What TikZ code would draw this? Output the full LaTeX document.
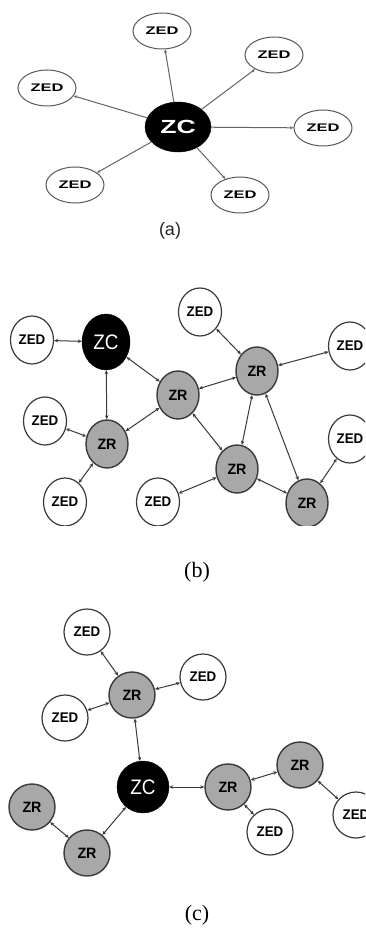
\documentclass[tikz,border=0pt]{standalone}
\usepackage{graphicx}
\usepackage{fontspec}
\setmainfont{Liberation Sans}
\newfontfamily\serifl{Liberation Serif}
\usetikzlibrary{shapes.geometric,arrows.meta}
\newcommand\txtazed{\scalebox{1.5}[1]{\bfseries\fontsize{11}{11}\selectfont ZED}}
\newcommand\txtazc{\scalebox{1.4}[1]{\bfseries\fontsize{19}{19}\selectfont ZC}}
\newcommand\txtzed{\scalebox{0.95}[1]{\bfseries\fontsize{14}{14}\selectfont ZED}}
\newcommand\txtzr{\scalebox{0.95}[1]{\bfseries\fontsize{15}{15}\selectfont ZR}}
\newcommand\txtzc{\scalebox{0.9}[1]{\fontsize{21}{21}\selectfont ZC}}
\definecolor{zrgray}{HTML}{A8A8A8}
\definecolor{edgecol}{HTML}{3A3A3A}
\begin{document}
\begin{tikzpicture}[x=1pt,y=-1pt,
  aZED/.style={ellipse, draw=gray!70!black, line width=1pt, fill=white,
    minimum width=58pt, minimum height=36pt, inner sep=0pt},
  aZC/.style={ellipse, draw=black, fill=black, text=white,
    minimum width=66pt, minimum height=50pt, inner sep=0pt},
  aedge/.style={-{Stealth[length=3.5pt,width=3pt]}, draw=gray!80!black, line width=1pt},
  zed/.style={ellipse, draw=edgecol, line width=1.2pt, fill=white,
    minimum width=43pt, minimum height=48pt, inner sep=0pt},
  zr/.style={ellipse, draw=edgecol, line width=1.4pt, fill=zrgray,
    minimum width=42pt, minimum height=48pt, inner sep=0pt},
  zc/.style={ellipse, draw=black, fill=black, text=white,
    minimum width=48pt, minimum height=56pt, inner sep=0pt},
  cnode/.style={minimum width=46pt, minimum height=46pt},
  bedge/.style={{Stealth[length=4pt,width=3.5pt]}-{Stealth[length=4pt,width=3.5pt]},
    draw=edgecol, line width=1pt},
  caplabel/.style={font=\serifl\fontsize{22}{22}\selectfont, text=black}
]
\clip (0,0) rectangle (365,928);
\fill[white] (0,0) rectangle (365,928);

% ---------------- panel (a)
\node[aZC] (aZC) at (178,127) {\txtazc};
\node[aZED] (a1) at (162,31) {\txtazed};
\node[aZED] (a2) at (274,55) {\txtazed};
\node[aZED] (a3) at (47,88) {\txtazed};
\node[aZED] (a4) at (323,128) {\txtazed};
\node[aZED] (a5) at (75,185) {\txtazed};
\node[aZED] (a6) at (240,195) {\txtazed};
\foreach \t in {a1,a2,a3,a4,a5,a6} \draw[aedge] (aZC) -- (\t);
\node[font=\fontsize{18}{18}\selectfont, text=black!85] (alab) at (170,231) {(a)};

% ---------------- panel (b)
\begin{scope}
\clip (0,260) rectangle (365,525);
\node[zed] (bZEDl) at (32,340) {\txtzed};
\node[zc] (bZC) at (106,342) {\txtzc};
\node[zed] (bZEDml) at (45,421) {\txtzed};
\node[zr] (bZR1) at (107,444) {\txtzr};
\node[zed] (bZEDbl) at (65,502) {\txtzed};
\node[zr] (bZR2) at (178,395) {\txtzr};
\node[zr] (bZR3) at (257,371) {\txtzr};
\node[zed] (bZEDt) at (200,312) {\txtzed};
\node[zed] (bZEDr) at (350,346) {\txtzed};
\node[zr] (bZR4) at (237,469) {\txtzr};
\node[zed] (bZEDbm) at (158,502) {\txtzed};
\node[zr] (bZR5) at (307,503) {\txtzr};
\node[zed] (bZEDrl) at (350,439) {\txtzed};
\draw[bedge] (bZEDl) -- (bZC);
\draw[bedge] (bZC) -- (bZR1);
\draw[bedge] (bZC) -- (bZR2);
\draw[bedge] (bZR1) -- (bZEDml);
\draw[bedge] (bZR1) -- (bZR2);
\draw[bedge] (bZR1) -- (bZEDbl);
\draw[bedge] (bZR2) -- (bZR3);
\draw[bedge] (bZR2) -- (bZR4);
\draw[bedge] (bZR3) -- (bZEDt);
\draw[bedge] (bZR3) -- (bZEDr);
\draw[bedge] (bZR3) -- (bZR4);
\draw[bedge] (bZR3) -- (bZR5);
\draw[bedge] (bZR4) -- (bZEDbm);
\draw[bedge] (bZR4) -- (bZR5);
\draw[bedge] (bZR5) -- (bZEDrl);
\end{scope}
\node[caplabel] (blab) at (197,572) {(b)};

% ---------------- panel (c)
\node[zed,cnode] (cZEDt) at (87,632) {\txtzed};
\node[zr,cnode] (cZR1) at (132,695) {\txtzr};
\node[zed,cnode] (cZEDr) at (203,677) {\txtzed};
\node[zed,cnode] (cZEDl) at (65,718) {\txtzed};
\node[zc,minimum width=52pt,minimum height=52pt] (cZC) at (143,787) {\txtzc};
\node[zr,cnode] (cZR2) at (228,787) {\txtzr};
\node[zr,cnode] (cZR3) at (300,765) {\txtzr};
\node[zed,cnode] (cZEDfr) at (356,815) {\txtzed};
\node[zed,cnode] (cZEDb) at (270,832) {\txtzed};
\node[zr,cnode] (cZR4) at (32,807) {\txtzr};
\node[zr,cnode] (cZR5) at (87,853) {\txtzr};
\draw[bedge] (cZR1) -- (cZEDt);
\draw[bedge] (cZR1) -- (cZEDr);
\draw[bedge] (cZR1) -- (cZEDl);
\draw[bedge] (cZR1) -- (cZC);
\draw[bedge] (cZC) -- (cZR2);
\draw[bedge] (cZR2) -- (cZR3);
\draw[bedge] (cZR3) -- (cZEDfr);
\draw[bedge] (cZR2) -- (cZEDb);
\draw[bedge] (cZC) -- (cZR5);
\draw[bedge] (cZR5) -- (cZR4);
\node[caplabel] (clab) at (197,915) {(c)};
\end{tikzpicture}
\end{document}
